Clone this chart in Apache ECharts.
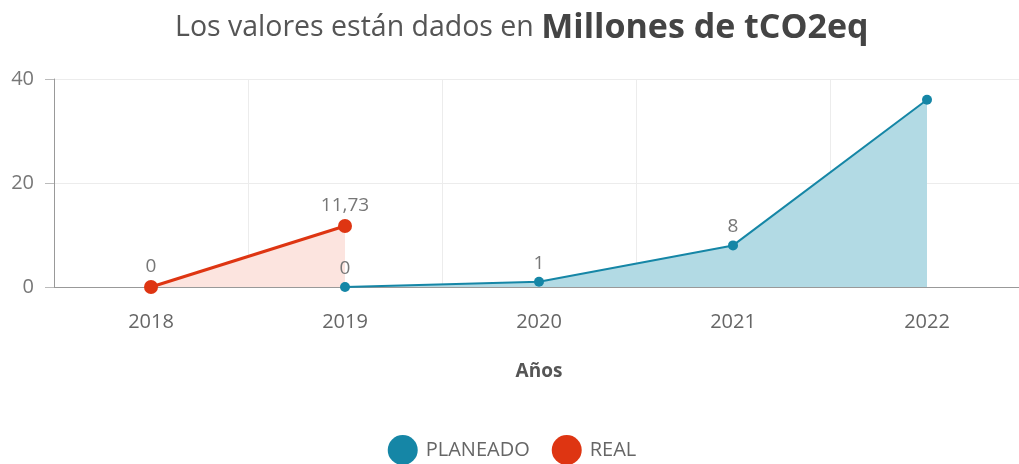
<!DOCTYPE html>
<html>
<head>
<meta charset="utf-8">
<script src="https://cdn.jsdelivr.net/npm/echarts@6/dist/echarts.min.js"></script>
<style>
  html, body { margin: 0; padding: 0; background: #fff; overflow: hidden; }
  #chart { width: 1024px; height: 464px; }
</style>
</head>
<body>
<div id="chart"></div>
<script>
// datos
const years = ['2018', '2019', '2020', '2021', '2022']
const planeado = [null, 0, 1, 8, 36]
const real = [0, 11.73, null, null, null]
const yTicks = [0, 20, 40]

const blue = '#1586a6'
const red = '#de3512'
const font = '"Open Sans", sans-serif'

// formato con coma decimal
function fmt(v) {
  return String(v).replace('.', ',')
}

// el último punto planeado no lleva etiqueta
const planeadoData = planeado.map((v, i) =>
  i === planeado.length - 1 ? { value: v, label: { show: false } } : v
)

const chart = echarts.init(document.getElementById('chart'))
chart.setOption({
  animation: false,
  title: {
    text: '{a|Los valores están dados en }{b|Millones de tCO2eq}',
    left: 170,
    top: 6,
    textStyle: {
      rich: {
        a: { fontFamily: font, fontSize: 28.5, fontWeight: 'normal', color: '#555' },
        b: { fontFamily: font, fontSize: 34, fontWeight: 'bold', color: '#444' }
      }
    }
  },
  legend: {
    bottom: -6,
    left: 'center',
    icon: 'circle',
    itemWidth: 30,
    itemHeight: 30,
    itemGap: 22,
    textStyle: { fontFamily: font, fontSize: 20, color: '#666', padding: [0, 0, 0, 3] },
    data: ['PLANEADO', 'REAL']
  },
  grid: { left: 54, right: 0, top: 79, bottom: 177 },
  xAxis: {
    type: 'category',
    data: years,
    name: 'Años',
    nameLocation: 'middle',
    nameGap: 75,
    nameTextStyle: { fontFamily: font, fontSize: 19, fontWeight: 'bold', color: '#555' },
    axisLine: { lineStyle: { color: '#999' } },
    axisTick: { alignWithLabel: true, length: 6, lineStyle: { color: '#bbb' } },
    axisLabel: { fontFamily: font, fontSize: 20, color: '#666', margin: 25 },
    splitLine: { show: true, lineStyle: { color: '#ececec' } }
  },
  yAxis: {
    type: 'value',
    min: yTicks[0],
    max: yTicks[yTicks.length - 1],
    interval: yTicks[1] - yTicks[0],
    axisLine: { show: true, lineStyle: { color: '#999' } },
    axisTick: { show: true, length: 9, lineStyle: { color: '#bbb' } },
    axisLabel: { fontFamily: font, fontSize: 20, color: '#777', margin: 20 },
    splitLine: { lineStyle: { color: '#ececec' } }
  },
  series: [
    {
      name: 'PLANEADO',
      type: 'line',
      data: planeadoData,
      color: blue,
      symbol: 'circle',
      symbolSize: 10,
      lineStyle: { width: 2, color: blue },
      areaStyle: { color: '#b2dae4', opacity: 1 },
      label: {
        show: true,
        position: 'top',
        distance: 4,
        fontFamily: font,
        fontSize: 19,
        color: '#777',
        formatter: p => fmt(p.value)
      }
    },
    {
      name: 'REAL',
      type: 'line',
      data: real,
      color: red,
      symbol: 'circle',
      symbolSize: 14,
      lineStyle: { width: 3, color: red },
      areaStyle: { color: '#fce4df', opacity: 1 },
      label: {
        show: true,
        position: 'top',
        distance: 4,
        fontFamily: font,
        fontSize: 19,
        color: '#777',
        formatter: p => fmt(p.value)
      }
    }
  ]
})
</script>
</body>
</html>
